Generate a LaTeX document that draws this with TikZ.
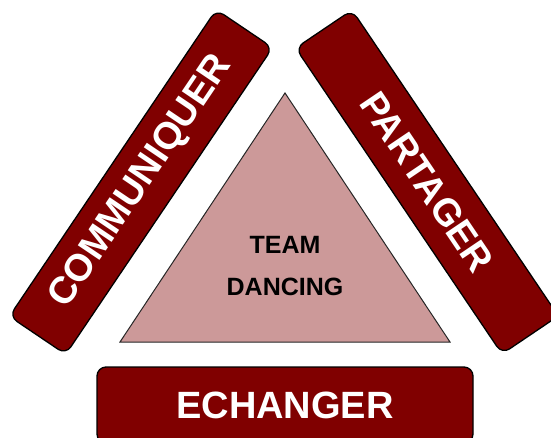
\documentclass[tikz,border=0pt]{standalone}
\usepackage{fontspec}
\setmainfont{Liberation Sans}
\newfontfamily\heavy{Liberation Sans Bold}
\definecolor{barred}{HTML}{800000}
\definecolor{tripink}{HTML}{CC9999}
\begin{document}
\begin{tikzpicture}[x=1pt,y=-1pt,
  bar/.style={draw=black, line width=1.3pt, fill=barred, rounded corners=9pt,
    text=white, font=\heavy\fontsize{38}{38}\selectfont, inner sep=0pt},
  tri/.style={draw=black!85, line width=1pt, fill=tripink, line join=miter},
  inner/.style={text=black, font=\heavy\fontsize{25}{25}\selectfont, inner sep=0pt, anchor=base}]
\useasboundingbox (0,0) rectangle (551,437);
\clip (0,0) rectangle (551,437);
% triangle
\coordinate (apex) at (285,93);
\coordinate (bl) at (120,342);
\coordinate (br) at (450,342);
\draw[tri] (apex) -- (br) -- (bl) -- cycle;
\node[inner] (team) at (285,253) {TEAM};
\node[inner] (dancing) at (285,295) {DANCING};
% bars
\node[bar, minimum width=370pt, minimum height=68pt, rotate=56] (comm) at (141,182) {COMMUNIQUER};
\node[bar, minimum width=369pt, minimum height=68pt, rotate=-56] (part) at (427,182) {PARTAGER};
\node[bar, minimum width=376pt, minimum height=76pt] (ech) at (285,405) {ECHANGER};
\end{tikzpicture}
\end{document}
